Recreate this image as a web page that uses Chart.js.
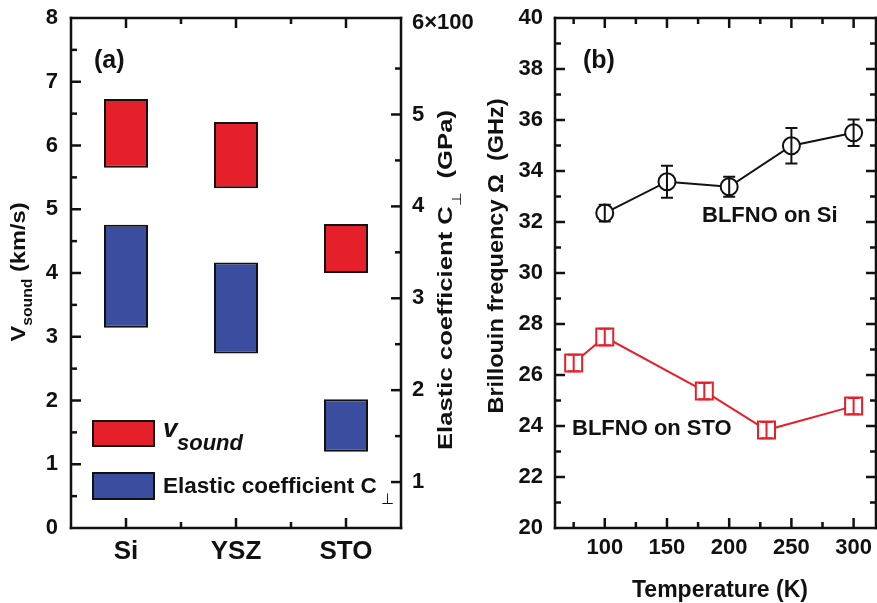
<!DOCTYPE html>
<html>
<head>
<meta charset="utf-8">
<script src="https://cdn.jsdelivr.net/npm/chart.js@4/dist/chart.umd.min.js"></script>
<style>
  html, body { margin:0; padding:0; background:#fff; overflow:hidden; width:877px; height:603px; position:relative; }
  canvas { position:absolute; top:0; }
  #chartA { left:0; }
  #chartB { left:470px; }
</style>
</head>
<body>
<canvas id="chartA" width="480" height="603"></canvas>
<canvas id="chartB" width="420" height="603"></canvas>
<script>
// panel (a): floating bars, v_sound on the left axis, C⊥ on the right axis (x100 GPa)
const substrates = ["Si", "YSZ", "STO"];
const vsoundRange = [[5.65, 6.73], [5.33, 6.37], [4.00, 4.77]];
const elasticRange = [[2.68, 3.80], [2.40, 3.39], [1.33, 1.90]];
const aLeftMajor = [1, 2, 3, 4, 5, 6, 7];
const aLeftMinor = [0.5, 1.5, 2.5, 3.5, 4.5, 5.5, 6.5, 7.5];
const aRightLabels = [1, 2, 3, 4, 5, 6];
const aRightMinor = [1.5, 2.5, 3.5, 4.5, 5.5];

// panel (b): Brillouin frequency vs temperature
const tempSi = [100, 150, 200, 250, 300];
const freqSi = [32.35, 33.58, 33.38, 34.99, 35.5];
const errSi = [0.33, 0.63, 0.39, 0.7, 0.52];
const tempSTO = [75, 100, 180, 230, 300];
const freqSTO = [26.47, 27.49, 25.37, 23.84, 24.78];
const errSTO = [0.32, 0.32, 0.32, 0.32, 0.32];
const bTempLabels = [100, 150, 200, 250, 300];
const bTempMinor = [75, 125, 175, 225, 275];
const bFreqMajor = [22, 24, 26, 28, 30, 32, 34, 36, 38];
const bFreqMinor = [21, 23, 25, 27, 29, 31, 33, 35, 37, 39];

const RED = "#e5202a", BLUE = "#3a4d9f", INK = "#111";
const FONT = '"Liberation Sans", Arial, Helvetica, sans-serif';
const fnt = (size, style) => (style || "bold") + " " + size + "px " + FONT;

Chart.defaults.font.family = FONT;
Chart.defaults.color = INK;
Chart.defaults.animation = false;

// text runs along one baseline, optionally rotated and stretched to a target length
function runText(ctx, runs, cx, cy, rotate, target) {
  ctx.save();
  ctx.translate(cx, cy);
  if (rotate) ctx.rotate(-Math.PI / 2);
  let w = 0;
  runs.forEach(r => { ctx.font = r.f; r.w = ctx.measureText(r.t).width; w += r.w; });
  if (target) ctx.scale(target / w, 1);
  ctx.textAlign = "left";
  ctx.textBaseline = "alphabetic";
  let x = -w / 2;
  runs.forEach(r => { ctx.font = r.f; ctx.fillText(r.t, x, r.dy || 0); x += r.w; });
  ctx.restore();
}

function txt(ctx, s, x, y, font) {
  ctx.font = font;
  ctx.textAlign = "left";
  ctx.textBaseline = "alphabetic";
  ctx.fillText(s, x, y);
}

// box frame + inward ticks + free text
function framePlugin(tickSets, drawTexts) {
  return {
    id: "frame",
    afterDraw(chart) {
      const ctx = chart.ctx, a = chart.chartArea;
      const lw = 2.5;
      ctx.save();
      ctx.fillStyle = INK;
      ctx.fillRect(a.left - lw / 2, a.top - lw / 2, a.right - a.left + lw, lw);
      ctx.fillRect(a.left - lw / 2, a.bottom - lw / 2, a.right - a.left + lw, lw);
      ctx.fillRect(a.left - lw / 2, a.top - lw / 2, lw, a.bottom - a.top + lw);
      ctx.fillRect(a.right - lw / 2, a.top - lw / 2, lw, a.bottom - a.top + lw);
      for (const t of tickSets) {
        const s = chart.scales[t.scale];
        for (const v of t.values) {
          const p = s.getPixelForValue(v);
          for (const side of t.sides) {
            if (side === "left") ctx.fillRect(a.left, p - lw / 2, t.len, lw);
            else if (side === "right") ctx.fillRect(a.right - t.len, p - lw / 2, t.len, lw);
            else if (side === "top") ctx.fillRect(p - lw / 2, a.top, lw, t.len);
            else ctx.fillRect(p - lw / 2, a.bottom - t.len, lw, t.len);
          }
        }
      }
      drawTexts(ctx, chart);
      ctx.restore();
    }
  };
}

const errorBars = {
  id: "errorBars",
  afterDatasetsDraw(chart) {
    const ctx = chart.ctx, x = chart.scales.x, y = chart.scales.y;
    chart.data.datasets.forEach(ds => {
      ctx.save();
      ctx.strokeStyle = ds.borderColor;
      ctx.lineWidth = 2;
      ds.data.forEach((p, i) => {
        const px = x.getPixelForValue(p.x);
        const y1 = y.getPixelForValue(p.y - ds.errors[i]);
        const y2 = y.getPixelForValue(p.y + ds.errors[i]);
        ctx.beginPath();
        ctx.moveTo(px, y1); ctx.lineTo(px, y2);
        ctx.moveTo(px - 6, y1); ctx.lineTo(px + 6, y1);
        ctx.moveTo(px - 6, y2); ctx.lineTo(px + 6, y2);
        ctx.stroke();
      });
      ctx.restore();
    });
  }
};

// keep the plot box where the reference has it
const fitY = w => s => { s.width = w; s.paddingTop = 0; s.paddingBottom = 0; };
const fitX = s => { s.height = 75; s.paddingLeft = 0; s.paddingRight = 0; };

// ---------- panel (a)
new Chart(document.getElementById("chartA"), {
  type: "bar",
  data: {
    labels: substrates,
    datasets: [
      { label: "vsound", data: vsoundRange, yAxisID: "y", backgroundColor: RED,
        borderColor: INK, borderWidth: 2, borderSkipped: false, grouped: false,
        barPercentage: 0.4, categoryPercentage: 1 },
      { label: "elastic", data: elasticRange, yAxisID: "y2", backgroundColor: BLUE,
        borderColor: INK, borderWidth: 2, borderSkipped: false, grouped: false,
        barPercentage: 0.4, categoryPercentage: 1 }
    ]
  },
  options: {
    responsive: false,
    layout: { padding: { top: 18, left: 0, right: 0, bottom: 0 } },
    plugins: { legend: { display: false }, tooltip: { enabled: false } },
    scales: {
      x: {
        offset: true,
        grid: { display: false, drawTicks: false },
        border: { display: false },
        ticks: { font: { size: 26, weight: "bold" }, padding: 8, color: INK },
        afterFit: fitX
      },
      y: {
        position: "left", min: 0, max: 8,
        grid: { display: false, drawTicks: false },
        border: { display: false },
        ticks: { stepSize: 1, font: { size: 22, weight: "bold" }, padding: 13, color: INK },
        afterFit: fitY(71)
      },
      y2: {
        position: "right", min: 0.5, max: 6.05,
        grid: { display: false, drawTicks: false },
        border: { display: false },
        afterBuildTicks: s => { s.ticks = aRightLabels.map(v => ({ value: v })); },
        ticks: { font: { size: 22, weight: "bold" }, padding: 11, color: INK,
                 callback: v => (v === 6 ? "6\u00d7100" : v) },
        afterFit: fitY(79)
      }
    }
  },
  plugins: [framePlugin([
    { scale: "y", values: aLeftMajor, sides: ["left"], len: 10 },
    { scale: "y", values: aLeftMinor, sides: ["left"], len: 6 },
    { scale: "y2", values: aRightLabels.slice(0, 5), sides: ["right"], len: 10 },
    { scale: "y2", values: aRightMinor, sides: ["right"], len: 6 },
    { scale: "x", values: [0, 1, 2], sides: ["top", "bottom"], len: 10 },
    { scale: "x", values: [0.5, 1.5], sides: ["top", "bottom"], len: 6 }
  ], (ctx) => {
    txt(ctx, "(a)", 94, 68, fnt(25));
    // legend
    ctx.lineWidth = 2;
    ctx.strokeStyle = INK;
    ctx.fillStyle = RED; ctx.fillRect(93, 421, 61, 25); ctx.strokeRect(93, 421, 61, 25);
    ctx.fillStyle = BLUE; ctx.fillRect(93, 473, 61, 26); ctx.strokeRect(93, 473, 61, 26);
    ctx.fillStyle = INK;
    txt(ctx, "v", 163, 437, fnt(26, "italic bold"));
    txt(ctx, "sound", 177, 450, fnt(22, "italic bold"));
    txt(ctx, "Elastic coefficient C", 163, 493, fnt(22.5));
    txt(ctx, "\u22a5", 381, 504, fnt(15, "normal"));
    // axis titles
    runText(ctx, [
      { t: "V", f: fnt(21) },
      { t: "sound", f: fnt(14), dy: 7 },
      { t: " (km/s)", f: fnt(21) }
    ], 25, 272, true, 139);
    runText(ctx, [
      { t: "Elastic coefficient C", f: fnt(21) },
      { t: "\u22a5", f: fnt(13, "normal"), dy: 9 },
      { t: "  (GPa)", f: fnt(21) }
    ], 452, 280, true, 340);
  })]
});

// ---------- panel (b)
new Chart(document.getElementById("chartB"), {
  type: "line",
  data: {
    datasets: [
      { label: "BLFNO on Si", data: tempSi.map((t, i) => ({ x: t, y: freqSi[i] })),
        errors: errSi, borderColor: INK, borderWidth: 2, tension: 0,
        pointStyle: "circle", pointRadius: 8.5, pointBorderWidth: 2,
        pointBackgroundColor: "#fff", pointBorderColor: INK },
      { label: "BLFNO on STO", data: tempSTO.map((t, i) => ({ x: t, y: freqSTO[i] })),
        errors: errSTO, borderColor: RED, borderWidth: 2, tension: 0,
        pointStyle: "rect", pointRadius: 12, pointBorderWidth: 2,
        pointBackgroundColor: "#fff", pointBorderColor: RED }
    ]
  },
  options: {
    responsive: false,
    layout: { padding: { top: 18, left: 0, right: 10, bottom: 0 } },
    plugins: { legend: { display: false }, tooltip: { enabled: false } },
    scales: {
      x: {
        type: "linear", min: 60, max: 318,
        grid: { display: false, drawTicks: false },
        border: { display: false },
        afterBuildTicks: s => { s.ticks = bTempLabels.map(v => ({ value: v })); },
        ticks: { font: { size: 22, weight: "bold" }, padding: 7, color: INK },
        afterFit: fitX
      },
      y: {
        min: 20, max: 40,
        grid: { display: false, drawTicks: false },
        border: { display: false },
        ticks: { stepSize: 2, font: { size: 22, weight: "bold" }, padding: 12, color: INK },
        afterFit: fitY(85)
      }
    }
  },
  plugins: [errorBars, framePlugin([
    { scale: "y", values: bFreqMajor, sides: ["left", "right"], len: 10 },
    { scale: "y", values: bFreqMinor, sides: ["left", "right"], len: 6 },
    { scale: "x", values: bTempLabels, sides: ["top", "bottom"], len: 10 },
    { scale: "x", values: bTempMinor, sides: ["top", "bottom"], len: 6 }
  ], (ctx) => {
    txt(ctx, "(b)", 583 - 470, 68, fnt(25));
    txt(ctx, "BLFNO on Si", 702 - 470, 222, fnt(22));
    txt(ctx, "BLFNO on STO", 572 - 470, 435, fnt(22));
    runText(ctx, [{ t: "Temperature (K)", f: fnt(23) }], 720 - 470, 597, false, 0);
    runText(ctx, [{ t: "Brillouin frequency \u03a9  (GHz)", f: fnt(22) }], 503 - 470, 256, true, 315);
  })]
});
</script>
</body>
</html>
